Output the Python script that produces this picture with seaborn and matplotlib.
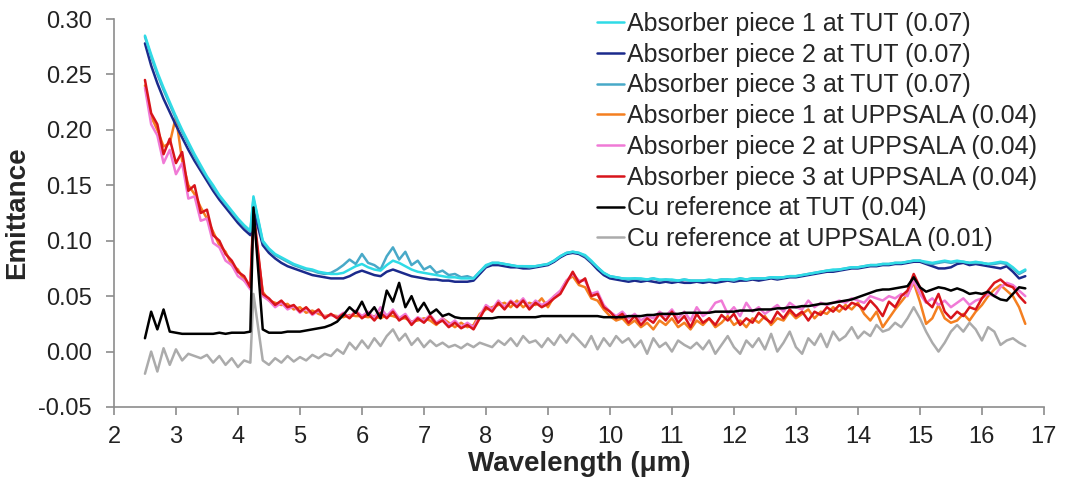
import numpy as np
import pandas as pd
import matplotlib
matplotlib.use("Agg")
import matplotlib.pyplot as plt
import seaborn as sns

# wavelength grid (um), 0.1 step, peak sample at 4.25
wavelength = [round(2.5 + 0.1 * i, 2) for i in range(143)]
wavelength[18] = 4.25

tut_piece1 = [
    0.285, 0.268, 0.252, 0.238, 0.225, 0.212, 0.200, 0.189, 0.178, 0.168,
    0.158, 0.150, 0.141, 0.134, 0.127, 0.120, 0.114, 0.109, 0.140, 0.100,
    0.093, 0.088, 0.085, 0.082, 0.079, 0.077, 0.075, 0.074, 0.072, 0.071,
    0.070, 0.070, 0.071, 0.074, 0.077, 0.079, 0.076, 0.074, 0.073, 0.078,
    0.082, 0.080, 0.077, 0.074, 0.072, 0.071, 0.070, 0.069, 0.068, 0.067,
    0.067, 0.066, 0.066, 0.066, 0.072, 0.078, 0.080, 0.080, 0.079, 0.078,
    0.077, 0.077, 0.077, 0.077, 0.078, 0.079, 0.082, 0.086, 0.089, 0.090,
    0.089, 0.087, 0.082, 0.076, 0.071, 0.068, 0.067, 0.066, 0.066, 0.066,
    0.066, 0.065, 0.066, 0.065, 0.065, 0.065, 0.064, 0.065, 0.064, 0.064,
    0.064, 0.065, 0.064, 0.065, 0.065, 0.065, 0.066, 0.065, 0.066, 0.066,
    0.066, 0.067, 0.067, 0.067, 0.068, 0.068, 0.069, 0.070, 0.071, 0.072,
    0.073, 0.074, 0.074, 0.075, 0.076, 0.076, 0.077, 0.078, 0.078, 0.079,
    0.079, 0.080, 0.080, 0.081, 0.082, 0.082, 0.081, 0.080, 0.081, 0.082,
    0.081, 0.082, 0.081, 0.080, 0.081, 0.080, 0.079, 0.080, 0.081, 0.080,
    0.076, 0.071, 0.074]

tut_piece2 = [
    0.278, 0.258, 0.242, 0.228, 0.216, 0.204, 0.193, 0.182, 0.172, 0.163,
    0.154, 0.145, 0.137, 0.130, 0.123, 0.116, 0.110, 0.105, 0.128, 0.096,
    0.089, 0.084, 0.080, 0.077, 0.075, 0.073, 0.071, 0.069, 0.068, 0.067,
    0.066, 0.066, 0.066, 0.068, 0.071, 0.073, 0.071, 0.069, 0.068, 0.072,
    0.074, 0.072, 0.070, 0.068, 0.067, 0.066, 0.065, 0.065, 0.064, 0.064,
    0.063, 0.063, 0.063, 0.064, 0.070, 0.076, 0.078, 0.078, 0.077, 0.076,
    0.076, 0.075, 0.075, 0.076, 0.077, 0.078, 0.081, 0.085, 0.088, 0.089,
    0.088, 0.085, 0.080, 0.074, 0.069, 0.066, 0.065, 0.064, 0.063, 0.064,
    0.063, 0.064, 0.063, 0.062, 0.063, 0.062, 0.063, 0.062, 0.062, 0.063,
    0.062, 0.063, 0.062, 0.063, 0.064, 0.063, 0.064, 0.064, 0.065, 0.064,
    0.065, 0.066, 0.065, 0.066, 0.067, 0.067, 0.068, 0.069, 0.070, 0.071,
    0.072, 0.072, 0.073, 0.074, 0.075, 0.075, 0.076, 0.077, 0.077, 0.078,
    0.078, 0.079, 0.079, 0.080, 0.081, 0.081, 0.079, 0.077, 0.075, 0.075,
    0.076, 0.079, 0.080, 0.078, 0.079, 0.078, 0.077, 0.076, 0.075, 0.077,
    0.072, 0.066, 0.068]

tut_piece3 = [
    0.284, 0.266, 0.250, 0.236, 0.223, 0.210, 0.198, 0.187, 0.176, 0.166,
    0.157, 0.148, 0.140, 0.133, 0.126, 0.119, 0.113, 0.108, 0.138, 0.099,
    0.092, 0.087, 0.084, 0.081, 0.078, 0.076, 0.074, 0.073, 0.071, 0.070,
    0.071, 0.074, 0.078, 0.083, 0.079, 0.088, 0.080, 0.078, 0.074, 0.086,
    0.094, 0.083, 0.090, 0.078, 0.082, 0.074, 0.077, 0.071, 0.073, 0.069,
    0.070, 0.067, 0.068, 0.066, 0.072, 0.077, 0.080, 0.080, 0.079, 0.078,
    0.077, 0.077, 0.076, 0.077, 0.078, 0.079, 0.082, 0.086, 0.089, 0.090,
    0.089, 0.086, 0.081, 0.076, 0.071, 0.068, 0.067, 0.066, 0.065, 0.066,
    0.065, 0.065, 0.066, 0.064, 0.065, 0.064, 0.064, 0.065, 0.064, 0.064,
    0.064, 0.064, 0.064, 0.065, 0.065, 0.064, 0.066, 0.065, 0.066, 0.066,
    0.066, 0.067, 0.066, 0.067, 0.068, 0.068, 0.069, 0.070, 0.071, 0.072,
    0.073, 0.073, 0.074, 0.075, 0.076, 0.076, 0.077, 0.078, 0.078, 0.079,
    0.079, 0.080, 0.080, 0.081, 0.082, 0.082, 0.080, 0.079, 0.080, 0.081,
    0.080, 0.081, 0.081, 0.080, 0.080, 0.080, 0.079, 0.079, 0.080, 0.079,
    0.075, 0.070, 0.073]

upp_piece1 = [
    0.240, 0.212, 0.200, 0.185, 0.188, 0.212, 0.172, 0.150, 0.142, 0.130,
    0.120, 0.108, 0.096, 0.090, 0.078, 0.074, 0.064, 0.060, 0.120, 0.054,
    0.046, 0.044, 0.042, 0.043, 0.038, 0.040, 0.035, 0.037, 0.034, 0.032,
    0.033, 0.032, 0.031, 0.033, 0.032, 0.032, 0.031, 0.032, 0.030, 0.033,
    0.032, 0.030, 0.030, 0.027, 0.028, 0.030, 0.028, 0.024, 0.030, 0.026,
    0.022, 0.026, 0.022, 0.024, 0.034, 0.038, 0.040, 0.042, 0.044, 0.040,
    0.046, 0.040, 0.044, 0.042, 0.048, 0.040, 0.050, 0.054, 0.064, 0.068,
    0.060, 0.058, 0.048, 0.046, 0.038, 0.032, 0.028, 0.030, 0.024, 0.028,
    0.022, 0.026, 0.020, 0.028, 0.024, 0.030, 0.022, 0.026, 0.020, 0.028,
    0.024, 0.030, 0.022, 0.026, 0.032, 0.024, 0.028, 0.022, 0.030, 0.026,
    0.032, 0.024, 0.030, 0.028, 0.036, 0.030, 0.034, 0.038, 0.030, 0.036,
    0.034, 0.040, 0.036, 0.042, 0.038, 0.044, 0.034, 0.028, 0.036, 0.022,
    0.030, 0.038, 0.045, 0.052, 0.062, 0.045, 0.025, 0.030, 0.042, 0.030,
    0.026, 0.028, 0.034, 0.028, 0.036, 0.042, 0.050, 0.056, 0.060, 0.055,
    0.050, 0.040, 0.025]

upp_piece2 = [
    0.238, 0.205, 0.195, 0.170, 0.182, 0.160, 0.170, 0.138, 0.140, 0.118,
    0.120, 0.098, 0.094, 0.082, 0.078, 0.068, 0.064, 0.056, 0.122, 0.050,
    0.046, 0.040, 0.044, 0.038, 0.041, 0.035, 0.039, 0.033, 0.037, 0.031,
    0.033, 0.031, 0.035, 0.031, 0.037, 0.032, 0.036, 0.030, 0.040, 0.032,
    0.038, 0.030, 0.034, 0.026, 0.031, 0.028, 0.033, 0.026, 0.030, 0.024,
    0.028, 0.022, 0.026, 0.022, 0.032, 0.042, 0.038, 0.046, 0.040, 0.046,
    0.042, 0.048, 0.040, 0.046, 0.042, 0.045, 0.050, 0.055, 0.064, 0.070,
    0.064, 0.064, 0.052, 0.054, 0.042, 0.036, 0.032, 0.036, 0.030, 0.034,
    0.028, 0.032, 0.030, 0.036, 0.032, 0.038, 0.030, 0.036, 0.028, 0.040,
    0.032, 0.036, 0.044, 0.046, 0.034, 0.040, 0.032, 0.044, 0.036, 0.040,
    0.034, 0.038, 0.042, 0.036, 0.044, 0.040, 0.038, 0.046, 0.040, 0.044,
    0.042, 0.044, 0.046, 0.044, 0.048, 0.046, 0.044, 0.050, 0.048, 0.046,
    0.050, 0.048, 0.052, 0.050, 0.064, 0.052, 0.044, 0.048, 0.042, 0.046,
    0.040, 0.044, 0.048, 0.042, 0.046, 0.048, 0.052, 0.050, 0.058, 0.062,
    0.060, 0.055, 0.050]

upp_piece3 = [
    0.245, 0.215, 0.205, 0.178, 0.192, 0.170, 0.180, 0.145, 0.150, 0.125,
    0.128, 0.105, 0.100, 0.088, 0.082, 0.072, 0.068, 0.058, 0.128, 0.052,
    0.048, 0.042, 0.046, 0.040, 0.042, 0.036, 0.040, 0.034, 0.038, 0.030,
    0.034, 0.030, 0.034, 0.030, 0.036, 0.030, 0.034, 0.028, 0.035, 0.030,
    0.036, 0.028, 0.032, 0.024, 0.030, 0.026, 0.032, 0.025, 0.028, 0.022,
    0.026, 0.021, 0.024, 0.020, 0.030, 0.040, 0.036, 0.044, 0.038, 0.045,
    0.040, 0.046, 0.038, 0.044, 0.040, 0.043, 0.048, 0.052, 0.062, 0.072,
    0.062, 0.066, 0.050, 0.052, 0.040, 0.036, 0.030, 0.034, 0.026, 0.032,
    0.024, 0.030, 0.026, 0.034, 0.028, 0.036, 0.026, 0.032, 0.022, 0.034,
    0.026, 0.030, 0.024, 0.033, 0.028, 0.034, 0.024, 0.030, 0.026, 0.035,
    0.030, 0.026, 0.036, 0.030, 0.038, 0.032, 0.036, 0.028, 0.036, 0.033,
    0.040, 0.036, 0.042, 0.038, 0.044, 0.042, 0.038, 0.046, 0.040, 0.032,
    0.045, 0.040, 0.050, 0.055, 0.070, 0.058, 0.045, 0.040, 0.052, 0.036,
    0.030, 0.036, 0.032, 0.040, 0.038, 0.048, 0.055, 0.062, 0.065, 0.060,
    0.058, 0.050, 0.044]

cu_tut = [
    0.012, 0.036, 0.020, 0.038, 0.018, 0.017, 0.016, 0.016, 0.016, 0.016,
    0.016, 0.016, 0.017, 0.016, 0.017, 0.017, 0.017, 0.018, 0.130, 0.020,
    0.017, 0.017, 0.017, 0.018, 0.018, 0.018, 0.019, 0.020, 0.021, 0.022,
    0.024, 0.027, 0.033, 0.040, 0.035, 0.045, 0.033, 0.040, 0.030, 0.055,
    0.045, 0.062, 0.040, 0.050, 0.036, 0.044, 0.034, 0.038, 0.032, 0.034,
    0.031, 0.030, 0.030, 0.030, 0.030, 0.030, 0.030, 0.031, 0.031, 0.031,
    0.031, 0.031, 0.031, 0.031, 0.032, 0.032, 0.032, 0.032, 0.032, 0.032,
    0.032, 0.032, 0.032, 0.032, 0.031, 0.031, 0.031, 0.031, 0.032, 0.032,
    0.032, 0.033, 0.033, 0.034, 0.034, 0.034, 0.034, 0.035, 0.035, 0.035,
    0.035, 0.035, 0.036, 0.036, 0.036, 0.036, 0.037, 0.037, 0.037, 0.038,
    0.038, 0.038, 0.039, 0.039, 0.040, 0.040, 0.041, 0.041, 0.042, 0.043,
    0.043, 0.044, 0.045, 0.046, 0.047, 0.049, 0.051, 0.053, 0.055, 0.056,
    0.056, 0.057, 0.058, 0.059, 0.067, 0.058, 0.054, 0.056, 0.058, 0.057,
    0.055, 0.057, 0.055, 0.052, 0.053, 0.052, 0.054, 0.050, 0.047, 0.046,
    0.052, 0.058, 0.057]

cu_uppsala = [
    -0.020, 0.000, -0.018, 0.003, -0.012, 0.002, -0.008, -0.002, -0.004, -0.006,
    -0.003, -0.010, -0.004, -0.012, -0.006, -0.014, -0.008, -0.010, 0.052, -0.008,
    -0.012, -0.006, -0.010, -0.004, -0.009, -0.005, -0.008, -0.003, -0.006, -0.002,
    -0.004, 0.002, -0.002, 0.008, 0.002, 0.010, 0.003, 0.012, 0.005, 0.014,
    0.020, 0.010, 0.016, 0.006, 0.012, 0.004, 0.010, 0.005, 0.008, 0.004,
    0.006, 0.003, 0.007, 0.004, 0.008, 0.006, 0.004, 0.010, 0.006, 0.012,
    0.005, 0.014, 0.008, 0.010, 0.004, 0.012, 0.006, 0.015, 0.008, 0.016,
    0.010, 0.004, 0.014, 0.002, 0.012, 0.005, 0.014, 0.008, 0.012, 0.004,
    0.010, -0.002, 0.012, 0.004, 0.008, 0.000, 0.010, 0.006, 0.003, 0.008,
    0.002, 0.010, -0.002, 0.006, 0.014, 0.004, -0.002, 0.010, 0.004, 0.012,
    0.002, 0.016, 0.000, 0.008, 0.018, 0.004, -0.002, 0.012, 0.006, 0.016,
    0.004, 0.018, 0.010, 0.014, 0.022, 0.012, 0.018, 0.014, 0.024, 0.018,
    0.020, 0.026, 0.022, 0.030, 0.040, 0.030, 0.018, 0.008, 0.000, 0.008,
    0.018, 0.024, 0.018, 0.026, 0.020, 0.010, 0.022, 0.018, 0.006, 0.010,
    0.012, 0.008, 0.005]

labels = [
    "Absorber piece 1 at TUT (0.07)",
    "Absorber piece 2 at TUT (0.07)",
    "Absorber piece 3 at TUT (0.07)",
    "Absorber piece 1 at UPPSALA (0.04)",
    "Absorber piece 2 at UPPSALA (0.04)",
    "Absorber piece 3 at UPPSALA (0.04)",
    "Cu reference at TUT (0.04)",
    "Cu reference at UPPSALA (0.01)",
]
series = [tut_piece1, tut_piece2, tut_piece3, upp_piece1, upp_piece2,
          upp_piece3, cu_tut, cu_uppsala]
colors = ["#2fdbe6", "#1b2a8c", "#48a9c8", "#f47f20", "#f07ad6",
          "#d8141b", "#000000", "#ababab"]
# drawing order (bottom to top)
zorders = [7, 5, 6, 2, 3, 4, 8, 1]

sns.set_theme(style="white")
plt.rcParams["font.family"] = ["Liberation Sans", "DejaVu Sans"]

fig = plt.figure(figsize=(10.71, 4.91), dpi=100)
ax = fig.add_axes([0.1064, 0.1711, 0.8683, 0.7902])

handles = []
for lab, vals, col, z in zip(labels, series, colors, zorders):
    df = pd.DataFrame({"wl": wavelength, "em": vals})
    sns.lineplot(data=df, x="wl", y="em", color=col, linewidth=1.8,
                 ax=ax, zorder=z, label=lab, legend=False)
    handles.append(ax.lines[-1])

ax.set_xlim(2, 17)
ax.set_ylim(-0.05, 0.30)
ax.set_xticks(range(2, 18))
yt = np.arange(-0.05, 0.301, 0.05)
ax.set_yticks(yt)
ax.set_yticklabels([f"{v:.2f}" for v in yt])

for side in ["top", "right"]:
    ax.spines[side].set_visible(False)
for side in ["left", "bottom"]:
    ax.spines[side].set_color("#8c8c8c")
    ax.spines[side].set_linewidth(1.2)
ax.tick_params(axis="both", which="major", direction="out", length=6,
               width=1.2, color="#8c8c8c", labelsize=17, labelcolor="#222222",
               left=True, bottom=True)
ax.tick_params(axis="y", pad=10)
ax.tick_params(axis="x", pad=8)

ax.set_xlabel("Wavelength (\u03bcm)", fontsize=20, fontweight="bold", labelpad=2)
ax.set_ylabel("Emittance", fontsize=20, fontweight="bold", labelpad=6)

fig.legend(handles, labels, loc="upper left", bbox_to_anchor=(0.557, 0.976),
           frameon=False, fontsize=18, handlelength=1.1, handletextpad=0.1,
           labelspacing=0.27, borderpad=0, borderaxespad=0)

fig.savefig("out.png", dpi=100, facecolor="white")
